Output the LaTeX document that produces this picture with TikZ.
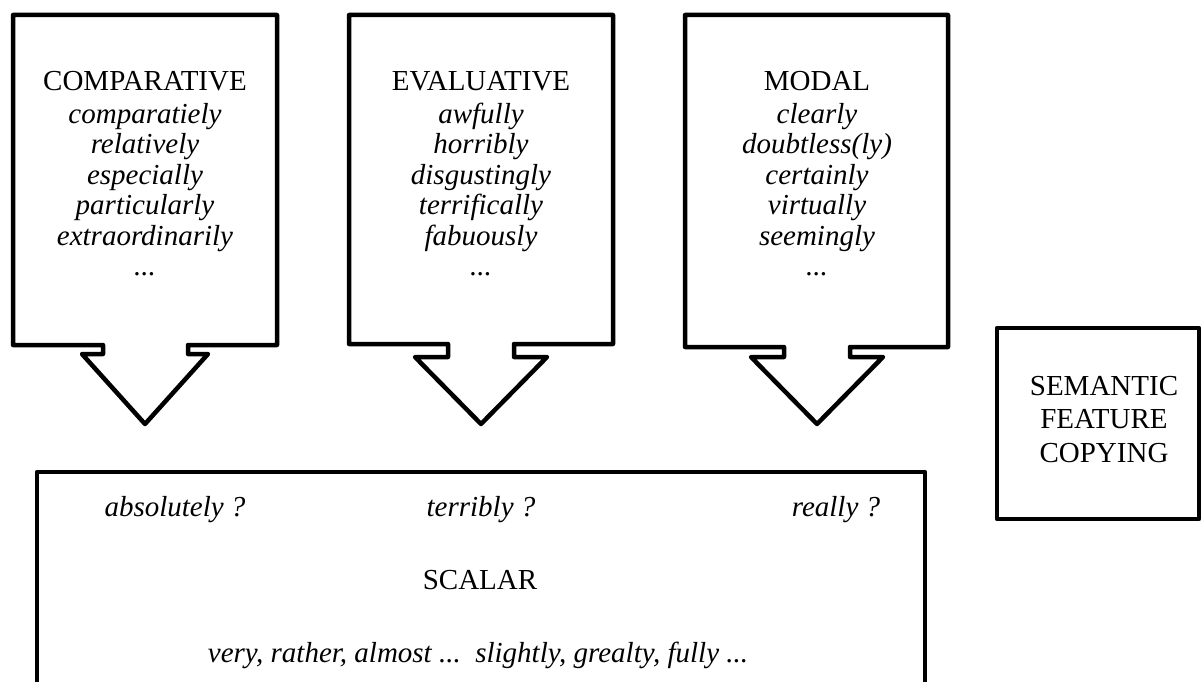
\documentclass[tikz,border=0pt]{standalone}
\usepackage{fontspec}
\setmainfont{Liberation Serif}
\begin{document}
\begin{tikzpicture}[x=1pt,y=-1pt,
  outline/.style={line width=4.5pt, line join=round, draw=black},
  txt/.style={inner sep=0pt, font=\fontsize{29}{30.5}\selectfont, align=center},
  semtxt/.style={inner sep=0pt, font=\fontsize{29}{33.5}\selectfont, align=center},
]
\clip (0,0) rectangle (1204,682);
\fill[white] (0,0) rectangle (1204,682);
% callouts
\draw[outline] (13,15) -- (277,15) -- (277,345) -- (188,345) -- (188,354) -- (208,354)
  -- (145,424) -- (82,354) -- (103,354) -- (103,345) -- (13,345) -- cycle;
\draw[outline] (349,15) -- (613,15) -- (613,344) -- (514,344) -- (514,357) -- (547,357)
  -- (481,424) -- (415,357) -- (448,357) -- (448,344) -- (349,344) -- cycle;
\draw[outline] (685,15) -- (948,15) -- (948,347) -- (850,347) -- (850,357) -- (883,357)
  -- (817,424) -- (751,357) -- (784,357) -- (784,347) -- (685,347) -- cycle;
% other boxes
\draw[outline] (37,700) -- (37,472) -- (925,472) -- (925,700);
\draw[outline] (997,328) rectangle (1199,519);
% texts
\node[txt, anchor=north] (comp) at (145,71) {COMPARATIVE\\[2.5pt]\textit{comparatiely}\\\textit{relatively}\\\textit{especially}\\\textit{particularly}\\\textit{extraordinarily}\\\textit{...}};
\node[txt, anchor=north] (eval) at (481,71) {EVALUATIVE\\[2.5pt]\textit{awfully}\\\textit{horribly}\\\textit{disgustingly}\\\textit{terrifically}\\\textit{fabuously}\\\textit{...}};
\node[txt, anchor=north] (modal) at (817,71) {MODAL\\[2.5pt]\textit{clearly}\\\textit{doubtless(ly)}\\\textit{certainly}\\\textit{virtually}\\\textit{seemingly}\\\textit{...}};
\node[semtxt, anchor=north] (sem) at (1104,376) {SEMANTIC\\FEATURE\\COPYING};
\node[txt, anchor=base] (abs) at (175,516) {\textit{absolutely ?}};
\node[txt, anchor=base] (ter) at (481,516) {\textit{terribly ?}};
\node[txt, anchor=base] (real) at (836,516) {\textit{really ?}};
\node[txt, anchor=base] (scal) at (480,589) {SCALAR};
\node[txt, anchor=base] (list) at (478,662) {\textit{very, rather, almost ...\ \ slightly, grealty, fully ...}};
\end{tikzpicture}
\end{document}
